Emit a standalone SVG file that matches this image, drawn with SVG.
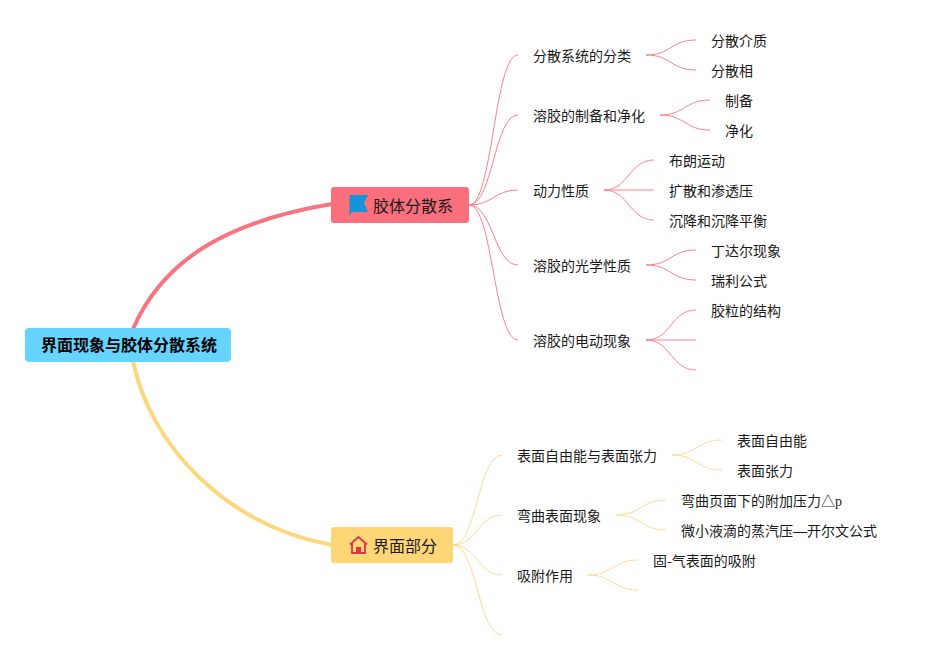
<svg xmlns="http://www.w3.org/2000/svg" width="937" height="660" viewBox="0 0 937 660">
<style>
text{font-family:"Noto Sans CJK SC","Liberation Sans",sans-serif;font-size:14px;fill:#1a1a1a}
.b{font-size:16px}
.r{font-size:16px;font-weight:700;fill:#000}
.l{fill:none}
.lr{stroke:#f9828e;stroke-width:1}
.ly{stroke:#fbdc93;stroke-width:1}
</style>
<rect width="937" height="660" fill="#fff"/>
<g id="connectors" class="l">
<path d="M133 329C165 255 235 220 332 204" fill="none" stroke="#f8747f" stroke-width="4"/>
<path d="M133 361C150 445 225 525 332 545" fill="none" stroke="#fcd87c" stroke-width="4"/>
<g class="l lr">
<path d="M469 205C493 205 494 55 518 55"/>
<path d="M469 205C493 205 494 115 518 115"/>
<path d="M469 205C493 205 494 190 518 190"/>
<path d="M469 205C493 205 494 265 518 265"/>
<path d="M469 205C493 205 494 340 518 340"/>
<path d="M646 55C671 55 671 40 696 40"/>
<path d="M646 55C671 55 671 70 696 70"/>
<path d="M660 115C685 115 685 100 710 100"/>
<path d="M660 115C685 115 685 130 710 130"/>
<path d="M604 190C629 190 629 160 654 160"/>
<path d="M604 190H654"/>
<path d="M604 190C629 190 629 220 654 220"/>
<path d="M646 265C671 265 671 250 696 250"/>
<path d="M646 265C671 265 671 280 696 280"/>
<path d="M646 340C671 340 671 310 696 310"/>
<path d="M646 340H696"/>
<path d="M646 340C671 340 671 370 696 370"/>
</g>
<g class="l ly">
<path d="M453 545C477 545 478 455 502 455"/>
<path d="M453 545C477 545 478 515 502 515"/>
<path d="M453 545C477 545 478 575 502 575"/>
<path d="M453 545C477 545 478 635 502 635"/>
<path d="M672 455C697 455 697 440 722 440"/>
<path d="M672 455C697 455 697 470 722 470"/>
<path d="M616 515C641 515 641 500 666 500"/>
<path d="M616 515C641 515 641 530 666 530"/>
<path d="M588 575C613 575 613 560 638 560"/>
<path d="M588 575C613 575 613 590 638 590"/>
</g>
</g>
<g id="root"><rect x="25" y="328" width="206" height="34" rx="4" fill="#66d4ff"/><text class="r" x="41" y="351">界面现象与胶体分散系统</text></g>
<g id="colloid"><rect x="331" y="187" width="138" height="36" rx="3" fill="#fb6e7c"/>
<path d="M349.500 195H368L364 203L368 212H351V215H349.500Z" fill="#1296db"/>
<text class="b" x="373" y="212">胶体分散系</text></g>
<g id="interface"><rect x="331" y="527" width="122" height="36" rx="3" fill="#fed675"/>
<path d="M350 544.500L358.500 537L367 544.500M352 543V553H365V543" fill="none" stroke="#d9364a" stroke-width="1.800"/><rect x="356" y="547" width="5" height="6" fill="#d9364a"/>
<text class="b" x="373" y="552">界面部分</text></g>
<g id="n1"><text x="533" y="61">分散系统的分类</text></g>
<g id="n1a"><text x="711" y="46">分散介质</text></g>
<g id="n1b"><text x="711" y="76">分散相</text></g>
<g id="n2"><text x="533" y="121">溶胶的制备和净化</text></g>
<g id="n2a"><text x="725" y="106">制备</text></g>
<g id="n2b"><text x="725" y="136">净化</text></g>
<g id="n3"><text x="533" y="196">动力性质</text></g>
<g id="n3a"><text x="669" y="166">布朗运动</text></g>
<g id="n3b"><text x="669" y="196">扩散和渗透压</text></g>
<g id="n3c"><text x="669" y="226">沉降和沉降平衡</text></g>
<g id="n4"><text x="533" y="271">溶胶的光学性质</text></g>
<g id="n4a"><text x="711" y="256">丁达尔现象</text></g>
<g id="n4b"><text x="711" y="286">瑞利公式</text></g>
<g id="n5"><text x="533" y="346">溶胶的电动现象</text></g>
<g id="n5a"><text x="711" y="316">胶粒的结构</text></g>
<g id="m1"><text x="517" y="461">表面自由能与表面张力</text></g>
<g id="m1a"><text x="737" y="446">表面自由能</text></g>
<g id="m1b"><text x="737" y="476">表面张力</text></g>
<g id="m2"><text x="517" y="521">弯曲表面现象</text></g>
<g id="m2a"><text x="681" y="506">弯曲页面下的附加压力△<tspan font-family="Liberation Serif">p</tspan></text></g>
<g id="m2b"><text x="681" y="536">微小液滴的蒸汽压<tspan font-family="Liberation Sans">—</tspan>开尔文公式</text></g>
<g id="m3"><text x="517" y="581">吸附作用</text></g>
<g id="m3a"><text x="653" y="566">固-气表面的吸附</text></g>
</svg>
